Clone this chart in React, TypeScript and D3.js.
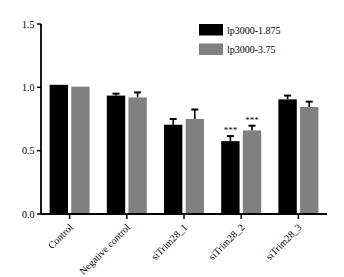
import React from "react";
import * as d3 from "d3";

const categories = ["Control", "Negative control", "siTrim28_1", "siTrim28_2", "siTrim28_3"];
const seriesNames = ["lp3000-1.875", "lp3000-3.75"];
const lp1875 = [1.02, 0.935, 0.705, 0.575, 0.905];
const lp1875Err = [0, 0.015, 0.045, 0.04, 0.03];
const lp375 = [1.005, 0.92, 0.75, 0.66, 0.845];
const lp375Err = [0, 0.04, 0.075, 0.037, 0.042];
const lp1875Sig = ["", "", "", "***", ""];
const lp375Sig = ["", "", "", "***", ""];
const yTicks = [0, 0.5, 1.0, 1.5];

const W = 344;
const H = 277;
const FONT = "'Liberation Serif', 'Times New Roman', serif";
const colors = ["#000000", "#808080"];

export default function App() {
  const x = d3.scaleBand<string>().domain(categories).range([41, 327]);
  const xSub = d3.scaleBand<string>().domain(seriesNames).range([-20, 20]).paddingInner(0.15);
  const y = d3.scaleLinear().domain([0, 1.5]).range([214, 24]);
  const series = [
    { name: seriesNames[0], values: lp1875, errs: lp1875Err, sig: lp1875Sig, color: colors[0] },
    { name: seriesNames[1], values: lp375, errs: lp375Err, sig: lp375Sig, color: colors[1] },
  ];
  const cx = (c: string) => (x(c) as number) + x.bandwidth() / 2;
  const bw = xSub.bandwidth();

  return (
    <div style={{ position: "absolute", left: 0, top: 0 }}>
      <svg width={W} height={H} style={{ display: "block", background: "#fff" }} fontFamily={FONT}>
        <rect x={0} y={0} width={W} height={H} fill="#fff" />
        {series.map((s) =>
          categories.map((c, i) => {
            const bx = cx(c) + (xSub(s.name) as number);
            const top = y(s.values[i]);
            const errTop = y(s.values[i] + s.errs[i]);
            const mid = bx + bw / 2;
            return (
              <g key={s.name + c}>
                <rect x={bx} y={top} width={bw} height={y(0) - top} fill={s.color} />
                {s.errs[i] > 0 && (
                  <g stroke="#000" strokeWidth={1.6}>
                    <line x1={mid} x2={mid} y1={top} y2={errTop} />
                    <line x1={mid - 3.5} x2={mid + 3.5} y1={errTop} y2={errTop} strokeWidth={2} />
                  </g>
                )}
                {s.sig[i] && (
                  <text x={mid} y={errTop - 3} textAnchor="middle" fontSize={9} fill="#000">
                    {s.sig[i]}
                  </text>
                )}
              </g>
            );
          })
        )}
        {/* y axis */}
        <line x1={41} x2={41} y1={y(1.5)} y2={y(0)} stroke="#000" strokeWidth={1.8} />
        {yTicks.map((t) => (
          <g key={t}>
            <line x1={37} x2={41} y1={y(t)} y2={y(t)} stroke="#000" strokeWidth={1.5} />
            <text x={34.5} y={y(t) + 3.5} textAnchor="end" fontSize={10} fill="#000">
              {t.toFixed(1)}
            </text>
          </g>
        ))}
        {/* x axis */}
        <line x1={41} x2={327} y1={y(0)} y2={y(0)} stroke="#000" strokeWidth={1.8} />
        {categories.map((c) => (
          <g key={c}>
            <line x1={cx(c)} x2={cx(c)} y1={y(0)} y2={y(0) + 5} stroke="#000" strokeWidth={1.5} />
            <text
              transform={`translate(${cx(c) + 4},${y(0) + 14}) rotate(-45)`}
              textAnchor="end"
              fontSize={10}
              fill="#000"
            >
              {c}
            </text>
          </g>
        ))}
        {/* legend */}
        {series.map((s, i) => (
          <g key={s.name} transform={`translate(199,${24 + i * 19.5})`}>
            <rect x={0} y={0} width={24} height={11.5} fill={s.color} />
            <text x={28} y={9.5} fontSize={10} fill="#000">
              {s.name}
            </text>
          </g>
        ))}
      </svg>
    </div>
  );
}
